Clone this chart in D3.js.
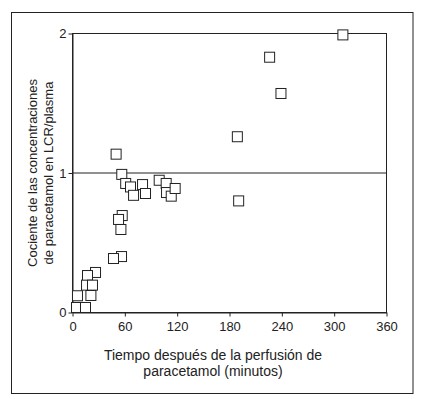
<!DOCTYPE html>
<html lang="es">
<head>
    <meta charset="UTF-8">
    <title>Cociente LCR/plasma de paracetamol</title>
    <script src="https://d3js.org/d3.v7.min.js"></script>
    <style>
        body { margin: 0; background: #fff; font-family: "Liberation Sans", Arial, sans-serif; }
        text { fill: #222; font-size: 13px; }
    </style>
</head>
<body>
    <svg id="chart" width="427" height="399"></svg>
    <script>
        // Datos
        const tiempos = [310, 226, 239, 189, 190.5, 50, 56.5, 61, 66.5, 70, 80.3, 83.7, 99.4, 107.4, 107.8, 113.2, 117.7,
                         57, 52.8, 55.5, 56.2, 47, 26.4, 17.2, 16.1, 22.9, 5.7, 21.1, 4.6, 14.9];
        const cocientes = [1.99, 1.83, 1.57, 1.26, 0.80, 1.135, 0.99, 0.925, 0.90, 0.84, 0.917, 0.853, 0.948, 0.925, 0.86, 0.834, 0.889,
                           0.695, 0.667, 0.595, 0.401, 0.387, 0.287, 0.265, 0.196, 0.196, 0.12, 0.122, 0.036, 0.036];
        const xTicks = [0, 60, 120, 180, 240, 300, 360];
        const yTicks = [0, 1, 2];

        const svg = d3.select("#chart");

        // Marco exterior
        svg.append("rect")
            .attr("x", 11.5).attr("y", 12.5).attr("width", 401.5).attr("height", 381)
            .attr("fill", "none").attr("stroke", "#222").attr("stroke-width", 1);

        const x = d3.scaleLinear().domain([0, 360]).range([72.5, 386.5]);
        const y = d3.scaleLinear().domain([0, 2]).range([312.5, 33.5]);

        // Caja del área de trazado
        svg.append("rect")
            .attr("x", x(0)).attr("y", y(2))
            .attr("width", x(360) - x(0)).attr("height", y(0) - y(2))
            .attr("fill", "none").attr("stroke", "#222");

        // Ejes
        const xAxis = svg.append("g").attr("transform", `translate(0,${y(0)})`)
            .call(d3.axisBottom(x).tickValues(xTicks).tickSize(4).tickPadding(5).tickSizeOuter(0));
        const yAxis = svg.append("g").attr("transform", `translate(${x(0)},0)`)
            .call(d3.axisLeft(y).tickValues(yTicks).tickFormat(d3.format("d")).tickSize(4).tickPadding(2).tickSizeOuter(0));
        [xAxis, yAxis].forEach(a => {
            a.select(".domain").attr("stroke", "#222");
            a.selectAll(".tick line").attr("stroke", "#222");
            a.selectAll("text").attr("font-size", 13).attr("font-family", null).style("fill", "#222");
        });

        // Línea de referencia en 1
        svg.append("line")
            .attr("x1", x(0)).attr("x2", x(360)).attr("y1", y(1)).attr("y2", y(1))
            .attr("stroke", "#222");

        // Puntos (cuadrados)
        const s = 10;
        svg.selectAll(".pt")
            .data(d3.range(tiempos.length))
            .enter().append("rect")
            .attr("class", "pt")
            .attr("x", i => x(tiempos[i]) - s / 2)
            .attr("y", i => y(cocientes[i]) - s / 2)
            .attr("width", s).attr("height", s)
            .attr("fill", "#fff").attr("stroke", "#222");

        // Títulos de los ejes
        const xt = svg.append("text").attr("text-anchor", "middle").style("font-size", "14px");
        xt.append("tspan").attr("x", 213).attr("y", 360).text("Tiempo después de la perfusión de");
        xt.append("tspan").attr("x", 213).attr("y", 376).text("paracetamol (minutos)");

        const yt = svg.append("text").attr("text-anchor", "middle")
            .attr("transform", "translate(0,173) rotate(-90)");
        yt.append("tspan").attr("x", 0).attr("y", 37).text("Cociente de las concentraciones");
        yt.append("tspan").attr("x", 0).attr("y", 53).text("de paracetamol en LCR/plasma");
    </script>
</body>
</html>
